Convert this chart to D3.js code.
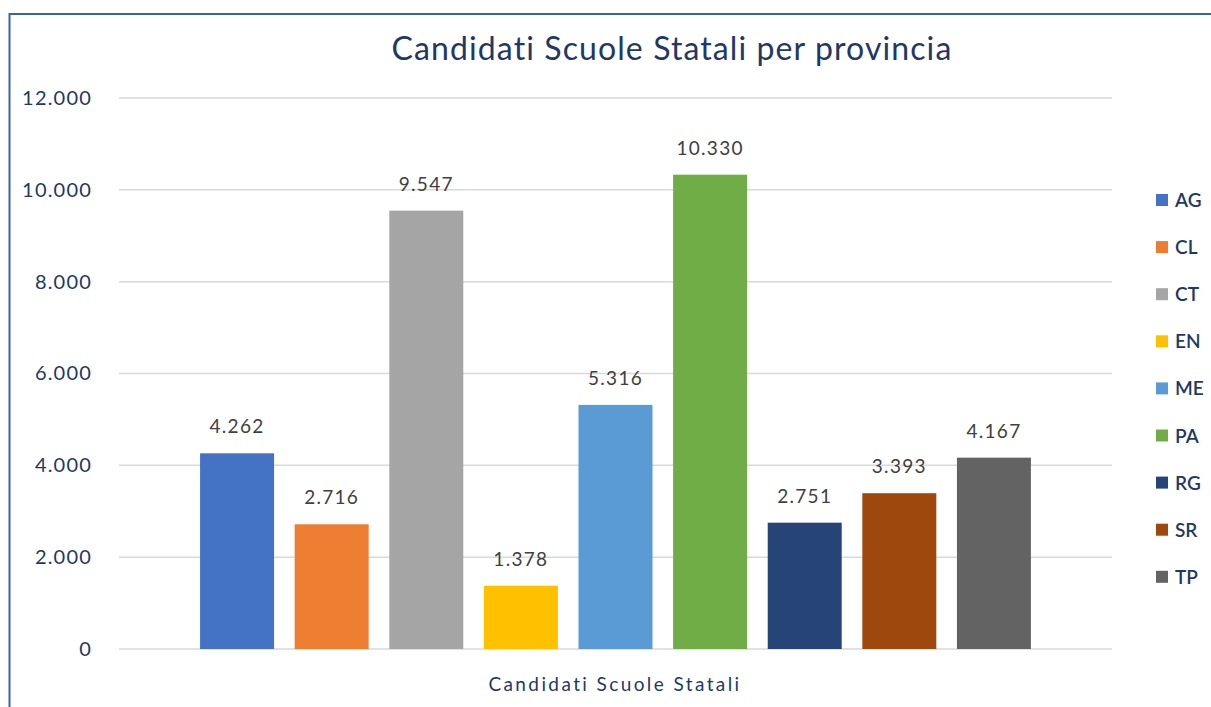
<!DOCTYPE html>
<html>
<head>
<meta charset="utf-8">
<script src="https://cdn.jsdelivr.net/npm/d3@7"></script>
<style>
  body { margin: 0; background: #fff; }
  svg { display: block; }
</style>
</head>
<body>
<script>
const provinces = ["AG", "CL", "CT", "EN", "ME", "PA", "RG", "SR", "TP"];
const candidates = [4262, 2716, 9547, 1378, 5316, 10330, 2751, 3393, 4167];
const colors = ["#4472c4", "#ed7d31", "#a5a5a5", "#ffc000", "#5b9bd5", "#70ad47", "#264478", "#9e480e", "#636363"];
const yTicks = [0, 2000, 4000, 6000, 8000, 10000, 12000];
const chartTitle = "Candidati Scuole Statali per provincia";
const categoryLabel = "Candidati Scuole Statali";

const W = 1211, H = 707;
const navy = "#1f3864";
const fontFam = "Lato, 'Open Sans', sans-serif";

const svg = d3.select("body").append("svg")
    .attr("width", W)
    .attr("height", H);

// frame, only the top and left edges show in the picture
svg.append("rect")
    .attr("x", 9.5).attr("y", 14)
    .attr("width", W + 20).attr("height", H + 20)
    .attr("fill", "none")
    .attr("stroke", "#3a63a8")
    .attr("stroke-width", 2);

const plotLeft = 119, plotRight = 1112;

let yScale = d3.scaleLinear()
    .domain([0, 12000])
    .range([649, 98]);

let xScale = d3.scaleBand()
    .domain(provinces)
    .range([plotLeft, plotRight])
    .paddingInner(0.218)
    .paddingOuter(0.857);

let fmt = d3.formatLocale({decimal: ",", thousands: ".", grouping: [3]}).format(",d");

// gridlines
svg.append("g")
    .selectAll("line")
    .data(yTicks)
    .enter()
    .append("line")
    .attr("x1", plotLeft).attr("x2", plotRight)
    .attr("y1", d => yScale(d)).attr("y2", d => yScale(d))
    .attr("stroke", "#d9d9d9")
    .attr("stroke-width", 1.5);

// y axis labels
let axis = d3.axisLeft(yScale).tickValues(yTicks).tickFormat(fmt).tickSize(0).tickPadding(0);
let axisGroup = svg.append("g")
    .attr("transform", "translate(92,0)")
    .call(axis);
axisGroup.select(".domain").remove();
axisGroup.selectAll("text")
    .attr("fill", navy)
    .style("font-family", fontFam)
    .style("font-size", "20px")
    .style("letter-spacing", "1.2px");

const rows = provinces.map((p, i) => ({ prov: p, value: candidates[i], color: colors[i] }));

svg.append("g")
    .selectAll("rect")
    .data(rows)
    .enter()
    .append("rect")
    .attr("x", d => xScale(d.prov))
    .attr("y", d => yScale(d.value))
    .attr("width", xScale.bandwidth())
    .attr("height", d => yScale(0) - yScale(d.value))
    .attr("fill", d => d.color);

svg.append("g")
    .selectAll("text")
    .data(rows)
    .enter()
    .append("text")
    .attr("x", d => xScale(d.prov) + xScale.bandwidth() / 2)
    .attr("y", d => yScale(d.value) - 20)
    .attr("text-anchor", "middle")
    .attr("fill", "#404040")
    .style("font-family", fontFam)
    .style("font-size", "19px")
    .style("letter-spacing", "1.3px")
    .text(d => fmt(d.value));

// title
svg.append("text")
    .attr("x", 672).attr("y", 60)
    .attr("text-anchor", "middle")
    .attr("fill", navy)
    .style("font-family", fontFam)
    .style("font-size", "32px")
    .style("letter-spacing", "1.1px")
    .text(chartTitle);

// category axis label
svg.append("text")
    .attr("x", 615).attr("y", 691)
    .attr("text-anchor", "middle")
    .attr("fill", navy)
    .style("font-family", fontFam)
    .style("font-size", "19px")
    .style("letter-spacing", "2.4px")
    .text(categoryLabel);

// legend
let legend = svg.append("g")
    .selectAll("g")
    .data(rows)
    .enter()
    .append("g")
    .attr("transform", (d, i) => `translate(1156,${200 + i * 47.1})`);
legend.append("rect")
    .attr("x", 0).attr("y", -6)
    .attr("width", 12).attr("height", 12)
    .attr("fill", d => d.color);
legend.append("text")
    .attr("x", 19).attr("y", 7)
    .attr("fill", navy)
    .style("font-family", fontFam)
    .style("font-size", "19px")
    .style("font-weight", "600")
    .text(d => d.prov);
</script>
</body>
</html>
